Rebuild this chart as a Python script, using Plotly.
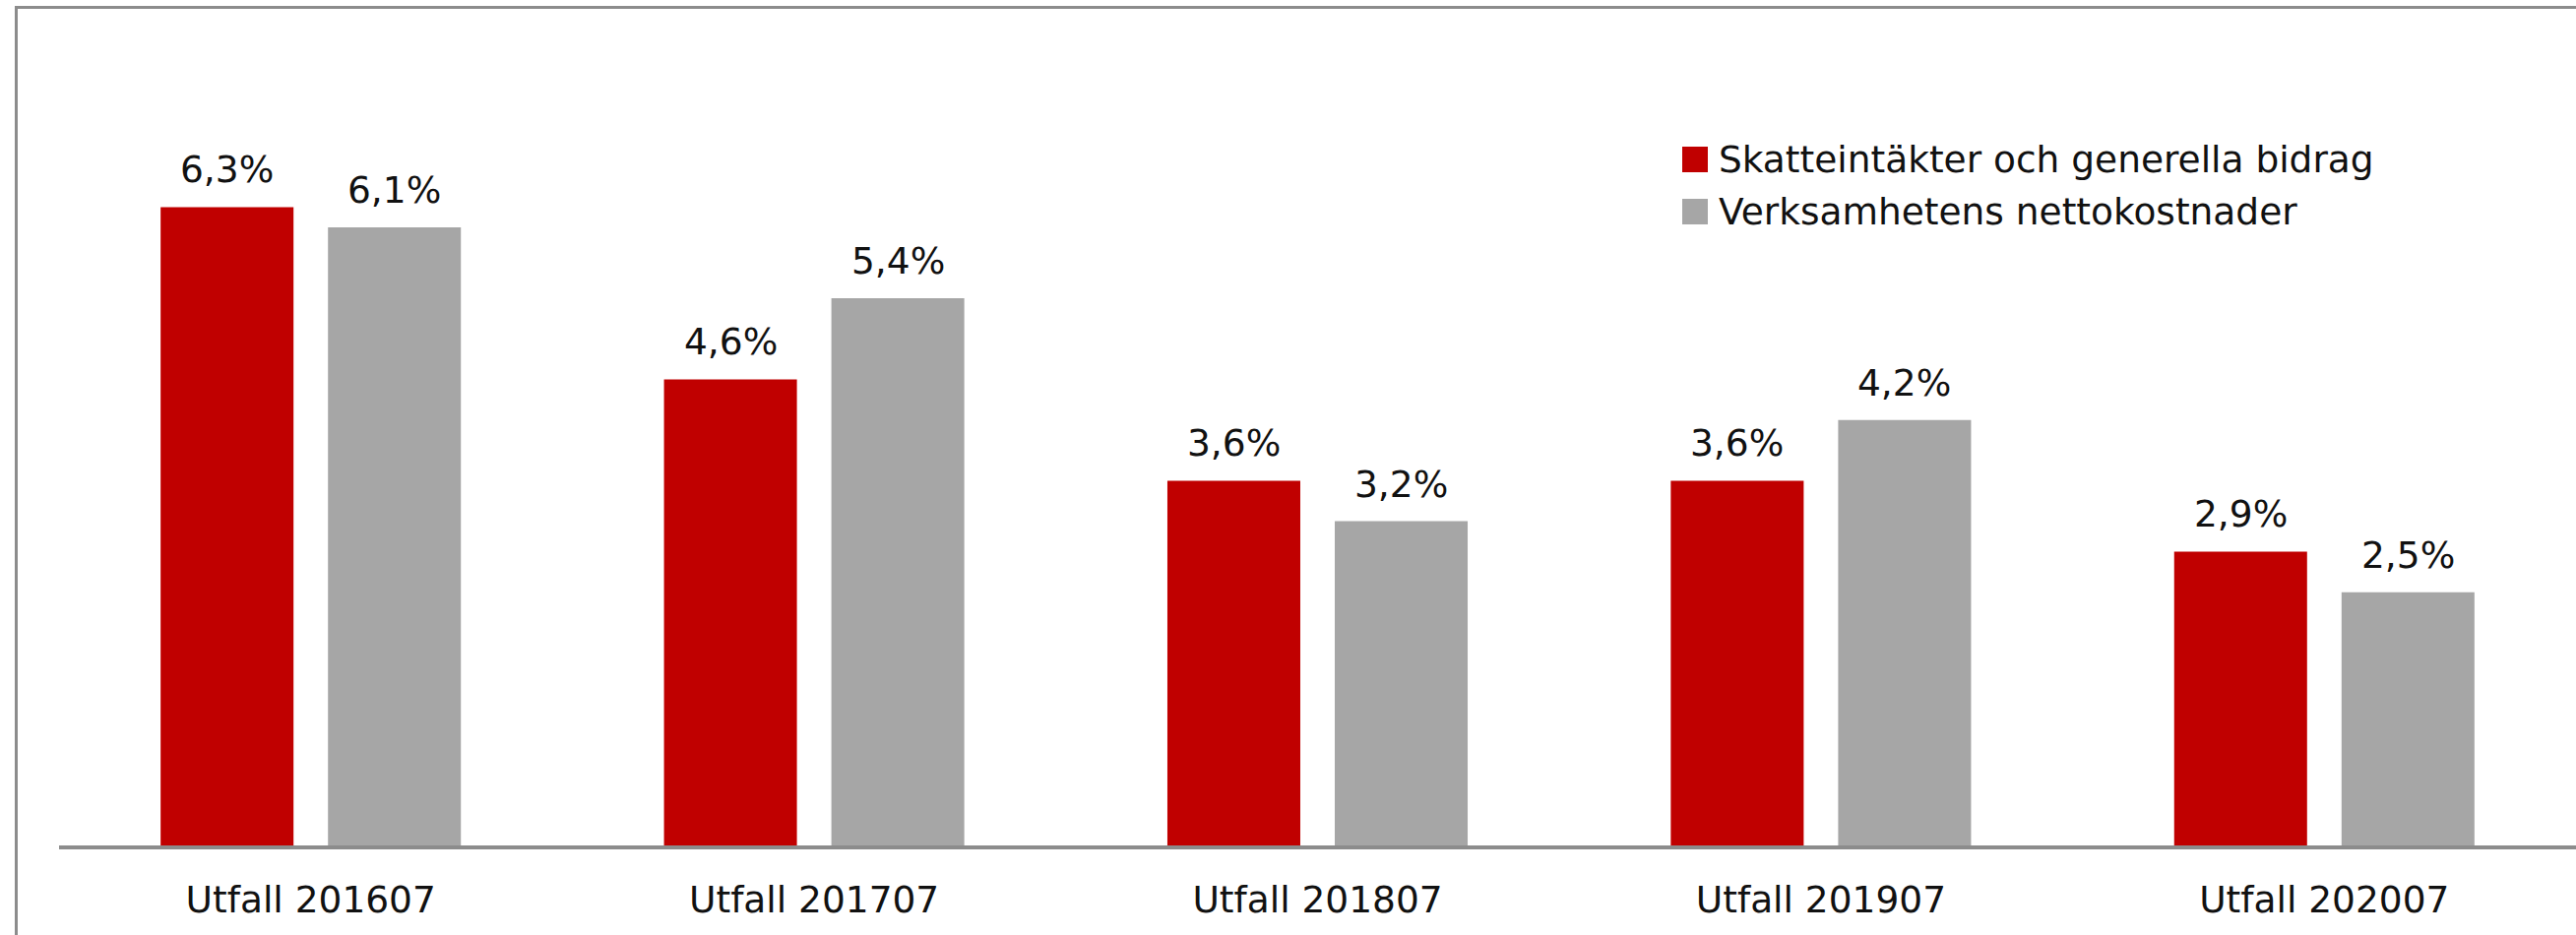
import plotly.graph_objects as go

# ---- data ----
categories = ["Utfall 201607", "Utfall 201707", "Utfall 201807", "Utfall 201907", "Utfall 202007"]
series_names = ["Skatteintäkter och generella bidrag", "Verksamhetens nettokostnader"]
skatt = [6.3, 4.6, 3.6, 3.6, 2.9]
netto = [6.1, 5.4, 3.2, 4.2, 2.5]
colors = ["#C00000", "#A6A6A6"]

# ---- layout geometry (pixels) ----
W, H = 2617, 950
ML, MR, MT, MB = 60, 0, 20, 91
PW, PH = W - ML - MR, H - MT - MB
YMAX = 8.15
FONT = "DejaVu Sans"
FS = 37.5
TXT = "#111111"


def px_x(x):
    return (x - ML) / PW


def px_y(y):
    return (H - MB - y) / PH


def fmt(v):
    return f"{v:.1f}".replace(".", ",") + "%"


fig = go.Figure()
for name, vals, col in zip(series_names, [skatt, netto], colors):
    fig.add_trace(go.Bar(x=categories, y=vals, name=name, marker_color=col,
                         marker_line_width=0, showlegend=False, hoverinfo="skip"))

# value labels
annotations = []
for vals, shift in zip([skatt, netto], [-85, 85]):
    for c, v in zip(categories, vals):
        annotations.append(dict(x=c, y=v, xref="x", yref="y", text=fmt(v), showarrow=False,
                                 xshift=shift, yshift=14, yanchor="bottom",
                                 font=dict(family=FONT, size=FS, color=TXT)))

# custom legend (large squares)
shapes = []
for i, (name, col) in enumerate(zip(series_names, colors)):
    cy = 162 + i * 53
    shapes.append(dict(type="rect", xref="paper", yref="paper",
                       x0=px_x(1709), x1=px_x(1735), y0=px_y(cy + 13), y1=px_y(cy - 13),
                       fillcolor=col, line_width=0))
    annotations.append(dict(x=px_x(1744), y=px_y(cy), xref="paper", yref="paper", text=name,
                            showarrow=False, xanchor="left", yanchor="middle",
                            font=dict(family=FONT, size=FS, color=TXT)))

# chart frame (left and top edges visible)
frame_col = "#8C8C8C"
shapes.append(dict(type="line", xref="paper", yref="paper", x0=px_x(16.5), x1=px_x(16.5),
                   y0=px_y(955), y1=px_y(6), line=dict(color=frame_col, width=3)))
shapes.append(dict(type="line", xref="paper", yref="paper", x0=px_x(15), x1=px_x(2617),
                   y0=px_y(7.5), y1=px_y(7.5), line=dict(color=frame_col, width=3)))

fig.update_layout(
    width=W, height=H,
    margin=dict(l=ML, r=MR, t=MT, b=MB, autoexpand=False),
    paper_bgcolor="white", plot_bgcolor="white",
    barmode="group", bargap=0.335, bargroupgap=0.206,
    font=dict(family=FONT, size=FS, color=TXT),
    annotations=annotations, shapes=shapes,
    xaxis=dict(showline=True, linecolor=frame_col, linewidth=3.5, ticks="", showgrid=False,
               tickfont=dict(family=FONT, size=FS, color=TXT), ticklabelstandoff=19),
    yaxis=dict(range=[0, YMAX], visible=False, showgrid=False, zeroline=False),
)

fig.write_html(
    "out.html",
    config={"displayModeBar": False},
    post_script=(
        "document.body.style.margin='0';"
        "document.body.style.overflow='hidden';"
        "document.documentElement.style.overflow='hidden';"
    ),
)
